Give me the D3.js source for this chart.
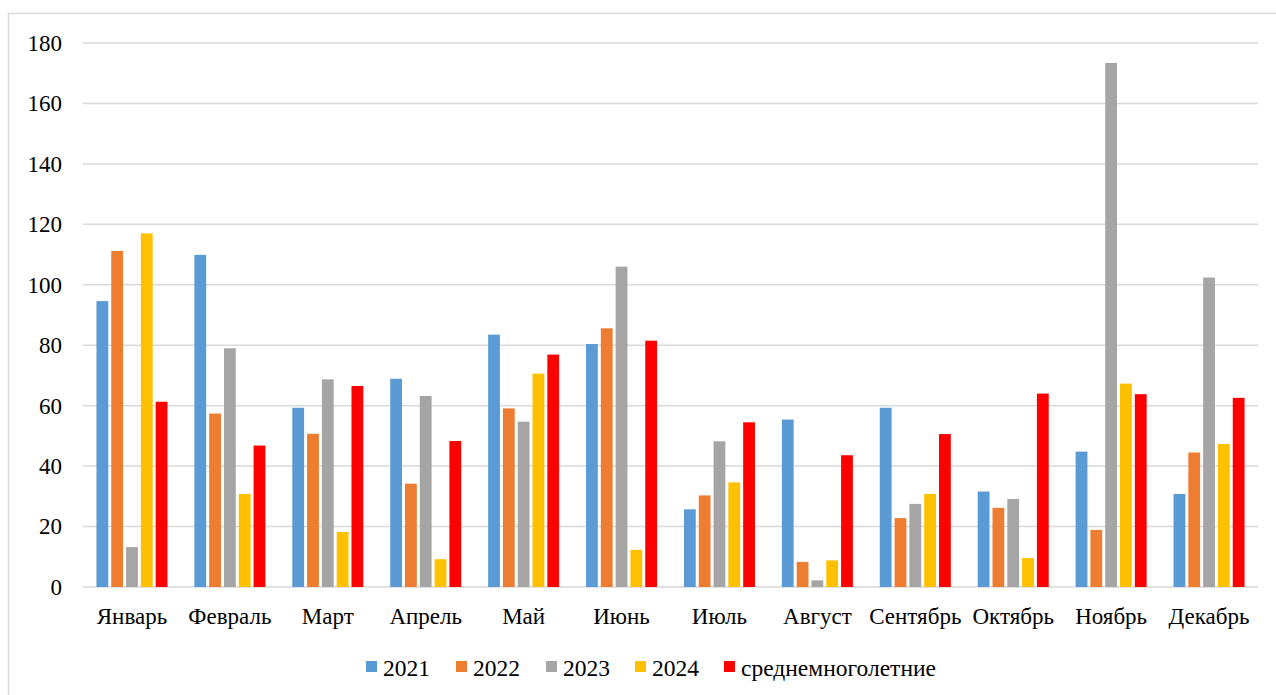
<!DOCTYPE html>
<html>
<head>
<meta charset="utf-8">
<script src="https://cdn.jsdelivr.net/npm/d3@7"></script>
<style>
  html, body { margin: 0; padding: 0; background: #fff; }
  svg { display: block; }
</style>
</head>
<body>
<svg id="chart" width="1276" height="695"></svg>
<script>
const months = ["Январь","Февраль","Март","Апрель","Май","Июнь","Июль","Август","Сентябрь","Октябрь","Ноябрь","Декабрь"];
const seriesNames = ["2021","2022","2023","2024","среднемноголетние"];
const seriesColors = ["#5b9bd5","#ed7d31","#a5a5a5","#ffc000","#ff0000"];
const v2021 = [94.6, 109.9, 59.3, 68.9, 83.5, 80.4, 25.7, 55.4, 59.3, 31.6, 44.8, 30.8];
const v2022 = [111.2, 57.4, 50.7, 34.2, 59.1, 85.6, 30.3, 8.3, 22.8, 26.2, 18.9, 44.5];
const v2023 = [13.2, 79.0, 68.7, 63.2, 54.7, 106.0, 48.2, 2.2, 27.5, 29.1, 173.4, 102.4];
const v2024 = [117.0, 30.8, 18.2, 9.2, 70.6, 12.3, 34.6, 8.8, 30.8, 9.6, 67.3, 47.3];
const vAvg  = [61.3, 46.8, 66.5, 48.3, 76.9, 81.5, 54.5, 43.6, 50.6, 64.0, 63.8, 62.6];
const yTicks = [0, 20, 40, 60, 80, 100, 120, 140, 160, 180];

const seriesValues = [v2021, v2022, v2023, v2024, vAvg];
const FONT = "'Liberation Serif', 'Times New Roman', serif";

const svg = d3.select("#chart");
const W = 1276, H = 695;
const plot = {left: 83, right: 1258, top: 43, bottom: 587};

// outer border
svg.append("rect")
  .attr("x", 8.5).attr("y", 13.5)
  .attr("width", W + 10).attr("height", H + 10)
  .attr("fill", "none").attr("stroke", "#d9d9d9").attr("stroke-width", 1.5);

const y = d3.scaleLinear().domain([0, 180]).range([plot.bottom, plot.top]);
const pad = 0.244;
const x = d3.scaleBand().domain(months).range([plot.left, plot.right])
  .paddingInner(pad).paddingOuter(pad / 2);
const xs = d3.scaleBand().domain(seriesNames).range([0, x.bandwidth()]);

// gridlines
svg.append("g").selectAll("line").data(yTicks).join("line")
  .attr("x1", plot.left).attr("x2", plot.right)
  .attr("y1", d => y(d)).attr("y2", d => y(d))
  .attr("stroke", "#d9d9d9").attr("stroke-width", 1.5);

// y axis labels
const yAxis = d3.axisLeft(y).tickValues(yTicks).tickSize(0).tickPadding(0);
const yg = svg.append("g").attr("transform", `translate(62,0)`).call(yAxis)
  .attr("font-family", null).attr("font-size", null);
yg.select(".domain").remove();
yg.selectAll("text").style("font-family", FONT).style("font-size", "23px").attr("fill", "#000");

// bars
const data = [];
months.forEach((m, i) => {
  seriesNames.forEach((s, j) => {
    data.push({m, s, v: seriesValues[j][i], c: seriesColors[j]});
  });
});
const inset = 1.5;
svg.append("g").selectAll("rect").data(data).join("rect")
  .attr("x", d => x(d.m) + xs(d.s) + inset)
  .attr("width", xs.bandwidth() - 2 * inset)
  .attr("y", d => y(d.v))
  .attr("height", d => y(0) - y(d.v))
  .attr("fill", d => d.c);

// x axis labels
const xAxis = d3.axisBottom(x).tickSize(0).tickPadding(0);
const xg = svg.append("g").attr("transform", `translate(0,${plot.bottom})`).call(xAxis)
  .attr("font-family", null).attr("font-size", null);
xg.select(".domain").remove();
xg.selectAll("text").style("font-family", FONT).style("font-size", "23px")
  .attr("fill", "#000").attr("dy", null).attr("y", 37);

// legend
const legendX = [366, 456, 546, 635, 724];
const lg = svg.append("g");
seriesNames.forEach((s, j) => {
  lg.append("rect").attr("x", legendX[j]).attr("y", 661)
    .attr("width", 11).attr("height", 11).attr("fill", seriesColors[j]);
  lg.append("text").attr("x", legendX[j] + 17).attr("y", 676)
    .style("font-family", FONT).style("font-size", "23.5px").attr("fill", "#000").text(s);
});
</script>
</body>
</html>
